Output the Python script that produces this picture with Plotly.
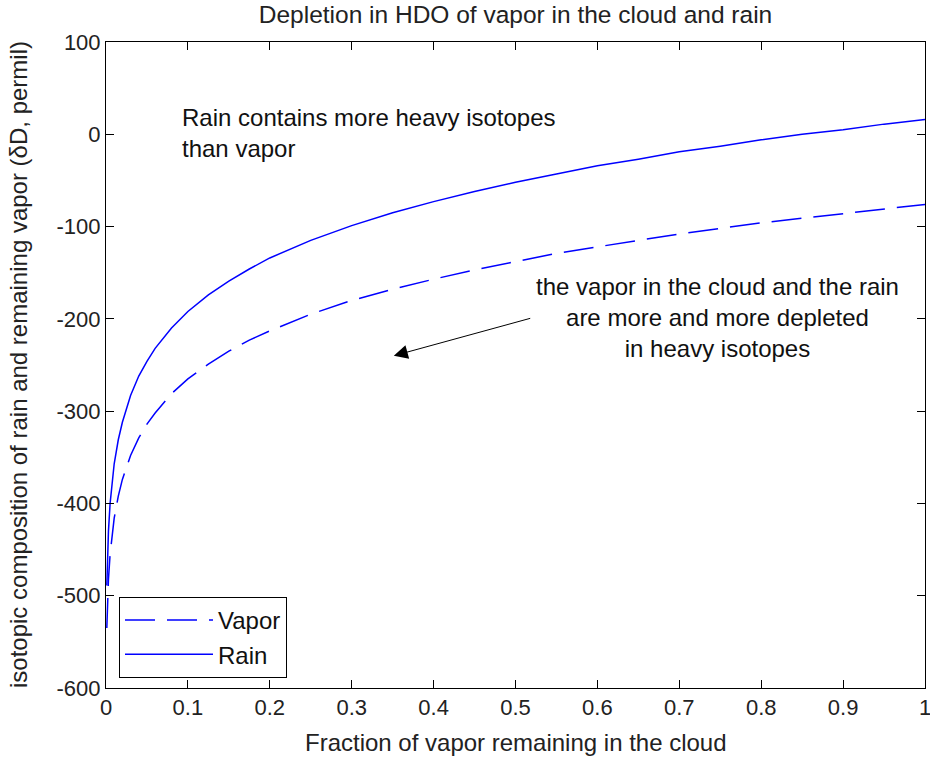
import plotly.graph_objects as go

# Fraction of vapor remaining in the cloud
fraction = [0.001, 0.002, 0.003, 0.005, 0.0075, 0.01, 0.015, 0.02, 0.03, 0.04,
            0.05, 0.06, 0.08, 0.1, 0.125, 0.15, 0.175, 0.2, 0.25, 0.3,
            0.35, 0.4, 0.45, 0.5, 0.55, 0.6, 0.65, 0.7, 0.75, 0.8,
            0.85, 0.9, 0.95, 1.0]

# Isotopic composition (deltaD, permil)
vapor = [-535, -502, -482, -455, -432, -416, -392, -374, -348, -329,
         -314, -302, -281, -265, -249, -235, -223, -213, -195, -180,
         -168, -157, -147, -138, -129, -122, -115, -108, -102, -96,
         -91, -86, -81, -76]

rain = [-489, -453, -430, -400, -376, -357, -331, -312, -283, -262,
        -246, -232, -210, -192, -174, -159, -146, -134, -115, -99,
        -85, -73, -62, -52, -43, -34, -27, -19, -13, -6,
        0, 5, 11, 16]

x_tick_vals = [0, 0.1, 0.2, 0.3, 0.4, 0.5, 0.6, 0.7, 0.8, 0.9, 1]
x_tick_text = ["0", "0.1", "0.2", "0.3", "0.4", "0.5", "0.6", "0.7", "0.8", "0.9", "1"]
y_tick_vals = [100, 0, -100, -200, -300, -400, -500, -600]
y_tick_text = ["100", "0", "-100", "-200", "-300", "-400", "-500", "-600"]

FONT = "Liberation Sans, Arial, Helvetica, sans-serif"
BLUE = "rgb(0,0,255)"

fig = go.Figure()
fig.add_trace(go.Scatter(x=fraction, y=vapor, mode="lines", name="Vapor",
                         line=dict(color=BLUE, width=1.5, dash="30px,12px")))
fig.add_trace(go.Scatter(x=fraction, y=rain, mode="lines", name="Rain",
                         line=dict(color=BLUE, width=1.5)))

axis_common = dict(showgrid=False, zeroline=False, showline=True, linecolor="black",
                   linewidth=1, mirror="ticks", ticks="inside", ticklen=8,
                   tickcolor="black", tickwidth=1, automargin=False,
                   ticklabeloverflow="allow",
                   tickfont=dict(family=FONT, size=22, color="#222"))

fig.update_xaxes(range=[0, 1], tickvals=x_tick_vals, ticktext=x_tick_text,
                 **axis_common)
fig.update_yaxes(range=[-600, 100], tickvals=y_tick_vals, ticktext=y_tick_text,
                 **axis_common)

# axis titles
fig.add_annotation(x=0.5, y=-(742 - 688) / 646, xref="paper", yref="paper", showarrow=False,
                   text="Fraction of vapor remaining in the cloud",
                   font=dict(family=FONT, size=24, color="#222"),
                   xanchor="center", yanchor="middle")
fig.add_annotation(x=-(106 - 18) / 819, y=0.5, xref="paper", yref="paper", showarrow=False,
                   text="isotopic composition of rain and remaining vapor (δD, permil)",
                   textangle=-90, font=dict(family=FONT, size=24, color="#222"),
                   xanchor="center", yanchor="middle")

fig.add_annotation(x=0.0904, y=1, xref="x", yref="y", xanchor="left", yanchor="middle",
                   align="left", showarrow=False,
                   text="Rain contains more heavy isotopes<br>than vapor",
                   font=dict(family=FONT, size=24, color="#111"))
fig.add_annotation(x=0.747, y=-199, xref="x", yref="y", xanchor="center", yanchor="middle",
                   align="center", showarrow=False,
                   text="the vapor in the cloud and the rain<br>are more and more depleted<br>in heavy isotopes",
                   font=dict(family=FONT, size=24, color="#111"))
fig.add_annotation(x=0.3514, y=-240, ax=0.5198, ay=-199, xref="x", yref="y",
                   axref="x", ayref="y", text="", showarrow=True,
                   arrowhead=2, arrowsize=2.8, arrowwidth=1, arrowcolor="black")

fig.update_layout(
    width=930, height=762,
    margin=dict(l=106, r=5, t=42, b=74),
    paper_bgcolor="white", plot_bgcolor="white",
    title=dict(text="Depletion in HDO of vapor in the cloud and rain",
               x=515.5 / 930, xanchor="center", y=1 - 14 / 762, yanchor="middle",
               yref="container", xref="container",
               font=dict(family=FONT, size=24.5, color="#222")),
    showlegend=True,
    legend=dict(x=(119 - 106) / 819, y=(688 - 678) / 646, xanchor="left", yanchor="bottom",
                bgcolor="white", bordercolor="black", borderwidth=1,
                itemwidth=88, font=dict(family=FONT, size=24, color="#111"),
                tracegroupgap=0),
)

fig.write_html("out.html", config={"displayModeBar": False},
               post_script="document.body.style.margin='0px';document.body.style.overflow='hidden';")
